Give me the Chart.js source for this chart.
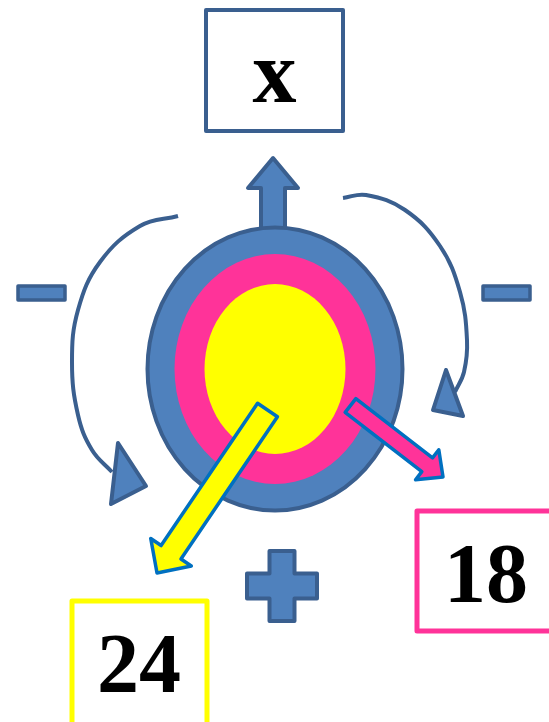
<!DOCTYPE html>
<html>
<head>
<meta charset="utf-8">
<script src="https://cdn.jsdelivr.net/npm/chart.js@4"></script>
<style>
  html, body { margin: 0; padding: 0; background: #fff; }
  #wrap { width: 549px; height: 722px; }
</style>
</head>
<body>
<div id="wrap"><canvas id="c" width="549" height="722"></canvas></div>
<script>
// diagram values (data units = picture pixels)
const ringCenter = [275, 369];
const ringRadiusX = [127.5, 100.5, 70.5];
const ringRadiusY = [141.5, 115, 85];
const ringColors = ['#4F81BD', '#FF3399', '#FFFF00'];

const leftLoop = [[178, 216], [140, 226], [100, 262], [78, 310], [72, 362], [78, 415], [92, 450], [112, 472]];
const rightLoop = [[343, 198], [366, 195], [405, 210], [440, 246], [460, 292], [467, 340], [464, 372], [455, 392]];
const leftHead = [[118, 443], [146, 486], [111, 504]];
const rightHead = [[446, 370], [433, 410], [463, 416]];

const boxLabels = ['x', '24', '18'];
const boxCorners = [[206, 10, 343, 131], [72, 601, 207, 726], [417, 511, 553, 631]];
const boxBaselines = [[274.5, 102], [139, 692], [486, 602]];
const boxBorders = ['#3A5F8F', '#FFFF00', '#FF3399'];

// block arrows: start, tip, shaft width, head width, head length
const upArrow = [[273, 232], [273, 158], 24, 50, 30];
const yellowArrow = [[267.5, 410], [157, 573], 24, 49, 25];
const pinkArrow = [[350.5, 405.5], [443, 477], 17.5, 38, 20];

const minusBars = [[18, 286, 65, 300], [483, 286, 530, 300]];
const plusSign = [282, 586, 35, 12.5];

const darkBlue = '#3A5F8F';

function px(chart, p) {
  return [chart.scales.x.getPixelForValue(p[0]), chart.scales.y.getPixelForValue(p[1])];
}
function len(chart, v) {
  return Math.abs(chart.scales.x.getPixelForValue(v) - chart.scales.x.getPixelForValue(0));
}

function blockArrow(ctx, chart, a, fill, stroke, lw) {
  const s = px(chart, a[0]), t = px(chart, a[1]);
  const sw = len(chart, a[2]) / 2, hw = len(chart, a[3]) / 2, hl = len(chart, a[4]);
  const dx = t[0] - s[0], dy = t[1] - s[1];
  const L = Math.hypot(dx, dy);
  const ux = dx / L, uy = dy / L, nx = -uy, ny = ux;
  const bx = t[0] - ux * hl, by = t[1] - uy * hl;
  const pts = [
    [s[0] + nx * sw, s[1] + ny * sw],
    [bx + nx * sw, by + ny * sw],
    [bx + nx * hw, by + ny * hw],
    t,
    [bx - nx * hw, by - ny * hw],
    [bx - nx * sw, by - ny * sw],
    [s[0] - nx * sw, s[1] - ny * sw]
  ];
  ctx.beginPath();
  pts.forEach((p, i) => i ? ctx.lineTo(p[0], p[1]) : ctx.moveTo(p[0], p[1]));
  ctx.closePath();
  ctx.fillStyle = fill;
  ctx.fill();
  ctx.lineWidth = lw;
  ctx.strokeStyle = stroke;
  ctx.lineJoin = 'round';
  ctx.stroke();
}

function polygon(ctx, chart, pts, fill, stroke, lw) {
  ctx.beginPath();
  pts.forEach((q, i) => {
    const p = px(chart, q);
    i ? ctx.lineTo(p[0], p[1]) : ctx.moveTo(p[0], p[1]);
  });
  ctx.closePath();
  ctx.fillStyle = fill;
  ctx.fill();
  ctx.lineWidth = lw;
  ctx.strokeStyle = stroke;
  ctx.lineJoin = 'round';
  ctx.stroke();
}

const diagram = {
  id: 'diagram',
  afterDatasetsDraw(chart) {
    const ctx = chart.ctx;
    ctx.save();

    // boxes with labels
    boxCorners.forEach((b, i) => {
      const p1 = px(chart, [b[0], b[1]]), p2 = px(chart, [b[2], b[3]]);
      ctx.lineWidth = i === 0 ? 4 : 5;
      ctx.strokeStyle = boxBorders[i];
      ctx.lineJoin = 'round';
      ctx.strokeRect(p1[0], p1[1], p2[0] - p1[0], p2[1] - p1[1]);
      const t = px(chart, boxBaselines[i]);
      ctx.fillStyle = '#000';
      ctx.font = 'bold ' + (i === 0 ? 88 : 84) + 'px "Liberation Serif", "DejaVu Serif", serif';
      ctx.textAlign = 'center';
      ctx.textBaseline = 'alphabetic';
      ctx.fillText(boxLabels[i], t[0], t[1]);
    });

    // arrow on top, behind the rings
    blockArrow(ctx, chart, upArrow, '#4F81BD', darkBlue, 4);

    // rings
    const c = px(chart, ringCenter);
    ringRadiusX.forEach((rx, i) => {
      ctx.beginPath();
      ctx.ellipse(c[0], c[1], len(chart, rx), len(chart, ringRadiusY[i]), 0, 0, Math.PI * 2);
      ctx.fillStyle = ringColors[i];
      ctx.fill();
      if (i === 0) {
        ctx.lineWidth = 4;
        ctx.strokeStyle = darkBlue;
        ctx.stroke();
      }
    });

    // loop arrow heads
    polygon(ctx, chart, leftHead, '#4F81BD', darkBlue, 4);
    polygon(ctx, chart, rightHead, '#4F81BD', darkBlue, 4);

    // signs
    minusBars.forEach(m => {
      const p1 = px(chart, [m[0], m[1]]), p2 = px(chart, [m[2], m[3]]);
      ctx.beginPath();
      ctx.rect(p1[0], p1[1], p2[0] - p1[0], p2[1] - p1[1]);
      ctx.fillStyle = '#4F81BD';
      ctx.fill();
      ctx.lineWidth = 3.5;
      ctx.strokeStyle = darkBlue;
      ctx.stroke();
    });
    const [pxc, pyc, arm, half] = plusSign;
    polygon(ctx, chart, [
      [pxc - half, pyc - arm], [pxc + half, pyc - arm], [pxc + half, pyc - half],
      [pxc + arm, pyc - half], [pxc + arm, pyc + half], [pxc + half, pyc + half],
      [pxc + half, pyc + arm], [pxc - half, pyc + arm], [pxc - half, pyc + half],
      [pxc - arm, pyc + half], [pxc - arm, pyc - half], [pxc - half, pyc - half]
    ], '#4F81BD', darkBlue, 4);

    // pointer arrows
    blockArrow(ctx, chart, yellowArrow, '#FFFF00', '#0070C0', 3.5);
    blockArrow(ctx, chart, pinkArrow, '#FF3399', '#0070C0', 3.5);

    ctx.restore();
  }
};

const toPoints = arr => arr.map(p => ({ x: p[0], y: p[1] }));

new Chart(document.getElementById('c'), {
  type: 'scatter',
  data: {
    datasets: [
      { data: toPoints(leftLoop), showLine: true, borderColor: darkBlue, borderWidth: 4, pointRadius: 0, tension: 0.4, fill: false },
      { data: toPoints(rightLoop), showLine: true, borderColor: darkBlue, borderWidth: 4, pointRadius: 0, tension: 0.4, fill: false }
    ]
  },
  options: {
    responsive: false,
    animation: false,
    devicePixelRatio: 1,
    layout: { padding: 0 },
    plugins: { legend: { display: false }, tooltip: { enabled: false } },
    scales: {
      x: { type: 'linear', min: 0, max: 549, display: false },
      y: { type: 'linear', min: 0, max: 722, reverse: true, display: false }
    }
  },
  plugins: [diagram]
});
</script>
</body>
</html>
